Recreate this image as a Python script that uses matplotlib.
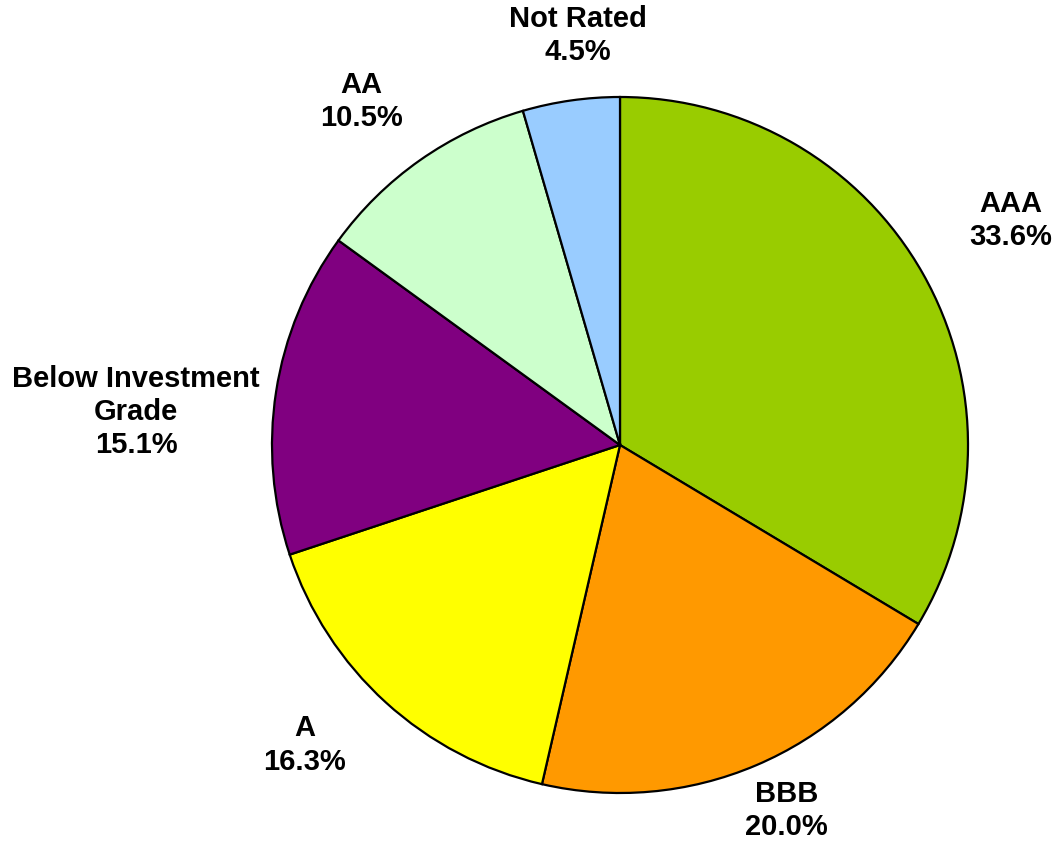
import numpy as np
import matplotlib
matplotlib.use("Agg")
import matplotlib.pyplot as plt

LABELS = ["AAA", "BBB", "A", "Below Investment\nGrade", "AA", "Not Rated"]
SHARES = [33.6, 20.0, 16.3, 15.1, 10.5, 4.5]
COLORS = ["#99CC00", "#FF9900", "#FFFF00", "#800080", "#CCFFCC", "#99CCFF"]
# label placement: distance from centre (in radii) and angular nudge (deg)
LABEL_DIST = [1.296, 1.155, 1.250, 1.394, 1.236, 1.182]
LABEL_SHIFT = [0.4, 1.4, -4.1, 4.9, 1.8, -2.2]

plt.rcParams["font.family"] = ["Liberation Sans", "DejaVu Sans"]

fig = plt.figure(figsize=(10.55, 8.44), dpi=100)
ax = fig.add_axes([0, 0, 1, 1])

wedges, _ = ax.pie(SHARES, colors=COLORS, startangle=90, counterclock=False,
                   radius=1.0, wedgeprops={"edgecolor": "black", "linewidth": 1.6})

for w, lab, val, d, s in zip(wedges, LABELS, SHARES, LABEL_DIST, LABEL_SHIFT):
    theta = np.deg2rad((w.theta1 + w.theta2) / 2 + s)
    ax.text(d * np.cos(theta), d * np.sin(theta), f"{lab}\n{val:.1f}%",
            ha="center", va="center", fontsize=21, fontweight="bold",
            linespacing=1.23)

# centre at (620, 445) px, radius 348 px
ax.set_xlim(-620 / 348, (1055 - 620) / 348)
ax.set_ylim(-(844 - 445) / 348, 445 / 348)
ax.set_aspect("auto")
ax.axis("off")

fig.savefig("out.png", dpi=100)
